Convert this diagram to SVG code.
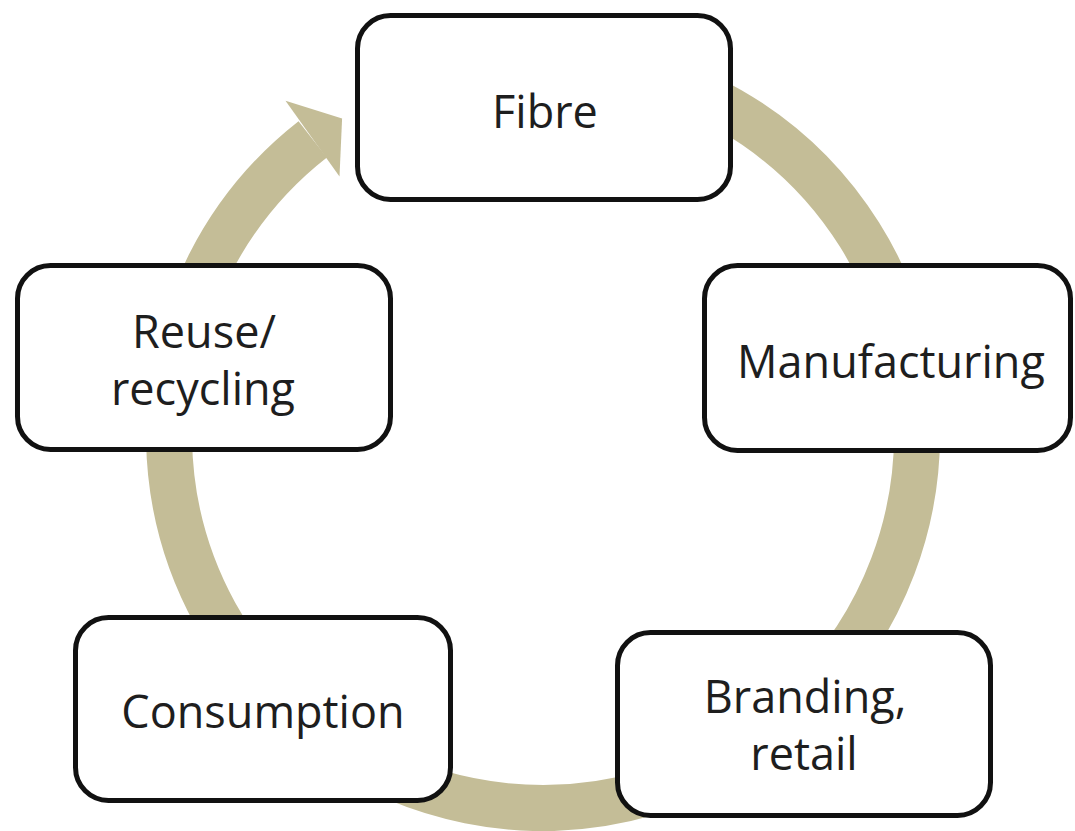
<svg xmlns="http://www.w3.org/2000/svg" width="1075" height="831" viewBox="0 0 1075 831">
  <style>
    .box { fill: #ffffff; stroke: #111111; stroke-width: 5; }
    .label { font-family: "Open Sans", "Noto Sans", "Liberation Sans", sans-serif; font-size: 45px; fill: #1e1e1e; text-anchor: middle; }
    .ring { fill: none; stroke: #C4BD97; stroke-width: 46; }
    .head { fill: #C4BD97; }
  </style>
  <rect width="1075" height="831" fill="#ffffff"/>

  <!-- cycle ring: circle centre (543,434), r=374, running clockwise from behind Fibre to the arrowhead -->
  <g id="connectors">
    <path class="ring" d="M 575.6 61.4 A 374 374 0 1 1 312.7 139.3"/>
    <polygon class="head" points="285.5,100.8 342.1,118.6 339.5,176.5"/>
  </g>

  <g id="node-fibre">
    <rect class="box" x="357.5" y="15.5" width="373" height="184" rx="33"/>
    <text class="label" x="545" y="128">Fibre</text>
  </g>

  <g id="node-manufacturing">
    <rect class="box" x="704.5" y="265.5" width="366" height="185" rx="33"/>
    <text class="label" x="891" y="378">Manufacturing</text>
  </g>

  <g id="node-branding">
    <rect class="box" x="617.5" y="632.5" width="373" height="183" rx="33"/>
    <text class="label" x="805" y="713">Branding,</text>
    <text class="label" x="804" y="770">retail</text>
  </g>

  <g id="node-consumption">
    <rect class="box" x="75.5" y="617.5" width="375" height="183" rx="33"/>
    <text class="label" x="263" y="728">Consumption</text>
  </g>

  <g id="node-reuse">
    <rect class="box" x="17.5" y="265.5" width="373" height="184" rx="33"/>
    <text class="label" x="204" y="348">Reuse/</text>
    <text class="label" x="203" y="405">recycling</text>
  </g>
</svg>
